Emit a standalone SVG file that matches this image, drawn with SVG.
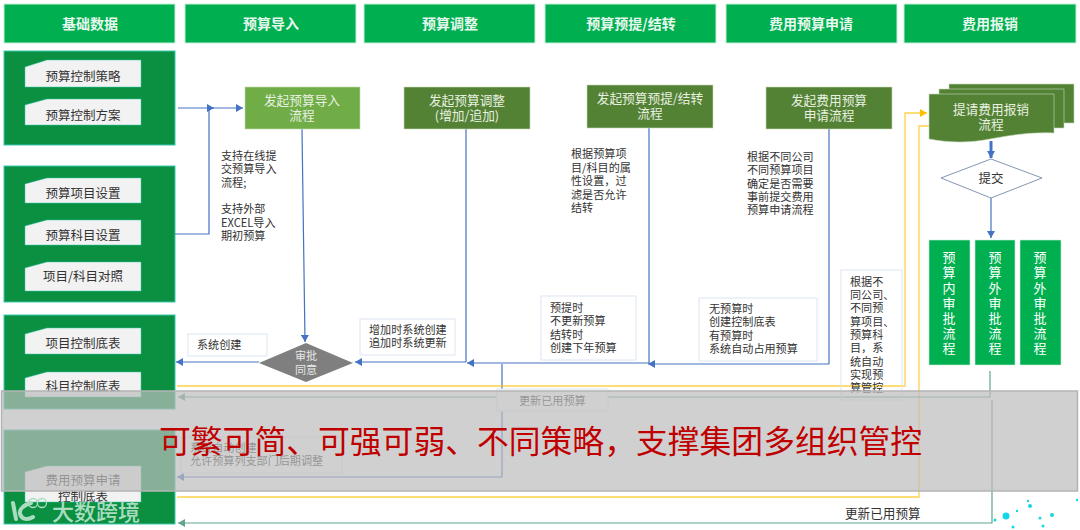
<svg xmlns="http://www.w3.org/2000/svg" width="1080" height="530" viewBox="0 0 1080 530">
<style>
text{font-family:"Noto Sans CJK SC","Liberation Sans",sans-serif;fill:#333;font-size:11.1px}
.hdr{fill:#00b050;stroke:#c6efd8;stroke-width:1}
.hdrt{fill:#fff;font-size:14px;font-weight:700;text-anchor:middle;fill-opacity:.92}
.panel{fill:#0a9040;stroke:#3cc8b4;stroke-width:1}
.item{fill:#f2f2f2;stroke:#3cc8b4;stroke-width:.5}
.itemt{font-size:12.5px;text-anchor:middle;fill:#333}
.proc{fill:#548235;stroke:#c5d9b8;stroke-width:.6}
.proct{fill:#e8f0e0;font-size:12.7px;text-anchor:middle}
.note{fill:#fff;stroke:#dce6f2;stroke-width:1}
.appr{fill:#00b050;stroke:#c6efd8;stroke-width:.6}
.apprt{fill:#fff;font-size:13px;text-anchor:middle}
.b{fill:none;stroke:#4472c4;stroke-width:1.2;marker-end:url(#ab)}
.bn{fill:none;stroke:#4472c4;stroke-width:1.2}
.y{fill:none;stroke:#ffc000;stroke-width:1.3;stroke-opacity:.72;marker-end:url(#ay)}
.g{fill:none;stroke:#5fa58a;stroke-width:1.2;marker-end:url(#ag)}
.dot{fill:#17d5e8}
.wm{fill:none;stroke:#a9dcc0;stroke-width:4;stroke-linecap:round}
</style>
<defs>
<marker id="ab" markerUnits="userSpaceOnUse" markerWidth="8" markerHeight="8" refX="7" refY="4" orient="auto"><path d="M0 0L7 4L0 8z" fill="#4472c4"/></marker>
<marker id="ay" markerUnits="userSpaceOnUse" markerWidth="8" markerHeight="8" refX="7" refY="4" orient="auto"><path d="M0 0L7 4L0 8z" fill="#ffc000"/></marker>
<marker id="ag" markerUnits="userSpaceOnUse" markerWidth="8" markerHeight="8" refX="7" refY="4" orient="auto"><path d="M0 0L7 4L0 8z" fill="#5fa58a"/></marker>
</defs>
<rect width="1080" height="530" fill="#fff"/>

<g id="hdr-1"><rect class="hdr" x="4" y="4" width="171" height="39"/><text class="hdrt" x="90" y="29">基础数据</text></g>
<g id="hdr-2"><rect class="hdr" x="185" y="4" width="171" height="39"/><text class="hdrt" x="271" y="29">预算导入</text></g>
<g id="hdr-3"><rect class="hdr" x="364" y="4" width="171" height="39"/><text class="hdrt" x="450" y="29">预算调整</text></g>
<g id="hdr-4"><rect class="hdr" x="545" y="4" width="171" height="39"/><text class="hdrt" x="631" y="29">预算预提/结转</text></g>
<g id="hdr-5"><rect class="hdr" x="726" y="4" width="171" height="39"/><text class="hdrt" x="811" y="29">费用预算申请</text></g>
<g id="hdr-6"><rect class="hdr" x="904" y="4" width="172" height="39"/><text class="hdrt" x="990" y="29">费用报销</text></g>

<g id="panel-1"><rect class="panel" x="4" y="51" width="171" height="94"/>
<path class="item" d="M25 67L47 60H141V87H25z"/><text class="itemt" x="83" y="81">预算控制策略</text>
<path class="item" d="M25 105L47 99H141V125H25z"/><text class="itemt" x="83" y="120">预算控制方案</text></g>
<g id="panel-2"><rect class="panel" x="4" y="166" width="171" height="136"/>
<path class="item" d="M25 184L47 178H141V203H25z"/><text class="itemt" x="83" y="198">预算项目设置</text>
<path class="item" d="M25 226L47 220H141V245H25z"/><text class="itemt" x="83" y="240">预算科目设置</text>
<path class="item" d="M25 268L47 262H141V291H25z"/><text class="itemt" x="83" y="281">项目/科目对照</text></g>
<g id="panel-3"><rect class="panel" x="4" y="315" width="171" height="94"/>
<path class="item" d="M25 334L47 328H141V354H25z"/><text class="itemt" x="83" y="348">项目控制底表</text>
<path class="item" d="M25 378L47 372H141V397H25z"/><text class="itemt" x="83" y="391">科目控制底表</text></g>
<g id="panel-4"><rect class="panel" x="4" y="430" width="171" height="94"/>
<path class="item" d="M25 472L47 466H141V502H25z"/><text class="itemt" x="83" y="485">费用预算申请</text><text class="itemt" x="83" y="501">控制底表</text></g>

<g id="connectors">
<path class="b" d="M178 108H243"/>
<path class="b" d="M175 234H209V108H214"/>
<path class="b" d="M302 129L305 342"/>
<path class="b" d="M259 362H176"/>
<path class="bn" d="M466 129V362"/>
<path class="b" d="M466 362H355"/>
<path class="bn" d="M649 128V363"/>
<path class="b" d="M649 363H467"/>
<path class="bn" d="M829 129V364"/>
<path class="b" d="M829 364H648"/>
<path class="b" d="M502 364V477H177"/>
<path class="y" d="M177 386H905V113H927"/>
<path class="y" d="M177 497H919V126H940"/>
<path class="g" d="M990 371V397H178"/>
<path class="g" d="M992 400V523H178"/>
<path d="M991 141V158" fill="none" stroke="#4472c4" stroke-width="3" marker-end="url(#ab)"/>
<path class="b" d="M991 198V238"/>
</g>

<g id="node-import"><rect x="245" y="87" width="115" height="42" fill="#70ad47" stroke="#c5d9b8" stroke-width=".6"/><text class="proct" x="302" y="105">发起预算导入</text><text class="proct" x="302" y="120">流程</text></g>
<g id="node-adjust"><rect class="proc" x="404" y="87" width="126" height="42"/><text class="proct" x="467" y="105">发起预算调整</text><text class="proct" x="467" y="120">(增加/追加)</text></g>
<g id="node-accrue"><rect class="proc" x="587" y="85" width="126" height="43"/><text class="proct" x="650" y="103">发起预算预提/结转</text><text class="proct" x="650" y="118">流程</text></g>
<g id="node-apply"><rect class="proc" x="766" y="87" width="126" height="42"/><text class="proct" x="829" y="105">发起费用预算</text><text class="proct" x="829" y="120">申请流程</text></g>
<g id="node-reimburse">
<rect class="proc" x="949" y="84" width="125" height="39"/>
<rect class="proc" x="939" y="89" width="125" height="39"/>
<path class="proc" d="M929 94H1054V133C1030 132 1012 135 990 139C970 143 950 143 929 139z"/>
<text class="proct" x="991" y="114">提请费用报销</text><text class="proct" x="991" y="129">流程</text></g>
<g id="node-submit"><path d="M941 178L991 159L1042 178L991 198z" fill="#fff" stroke="#8497b0"/><text x="991" y="183" text-anchor="middle" style="font-size:12.5px">提交</text></g>
<g id="node-approve"><path d="M259 363L306 343L353 363L306 382z" fill="#7f7f7f"/><text x="306" y="360" text-anchor="middle" style="fill:#e8e8e8">审批</text><text x="306" y="373.5" text-anchor="middle" style="fill:#e8e8e8">同意</text></g>

<g id="appr-1"><rect class="appr" x="929" y="240" width="41" height="125"/><text class="apprt"><tspan x="949" y="262">预</tspan><tspan x="949" y="277">算</tspan><tspan x="949" y="293">内</tspan><tspan x="949" y="308">审</tspan><tspan x="949" y="323">批</tspan><tspan x="949" y="338">流</tspan><tspan x="949" y="353">程</tspan></text></g>
<g id="appr-2"><rect class="appr" x="975" y="240" width="40" height="125"/><text class="apprt"><tspan x="995" y="262">预</tspan><tspan x="995" y="277">算</tspan><tspan x="995" y="293">外</tspan><tspan x="995" y="308">审</tspan><tspan x="995" y="323">批</tspan><tspan x="995" y="338">流</tspan><tspan x="995" y="353">程</tspan></text></g>
<g id="appr-3"><rect class="appr" x="1020" y="240" width="41" height="125"/><text class="apprt"><tspan x="1040" y="262">预</tspan><tspan x="1040" y="277">算</tspan><tspan x="1040" y="293">外</tspan><tspan x="1040" y="308">审</tspan><tspan x="1040" y="323">批</tspan><tspan x="1040" y="338">流</tspan><tspan x="1040" y="353">程</tspan></text></g>

<g id="note-import"><text><tspan x="221" y="160">支持在线提</tspan><tspan x="221" y="173.3">交预算导入</tspan><tspan x="221" y="186.6">流程;</tspan><tspan x="221" y="213">支持外部</tspan><tspan x="221" y="226.5">EXCEL导入</tspan><tspan x="221" y="240">期初预算</tspan></text></g>
<g id="note-accrue"><text><tspan x="571" y="158">根据预算项</tspan><tspan x="571" y="171.5">目/科目的属</tspan><tspan x="571" y="185">性设置，过</tspan><tspan x="571" y="198.5">滤是否允许</tspan><tspan x="571" y="212">结转</tspan></text></g>
<g id="note-apply"><text><tspan x="747" y="161">根据不同公司</tspan><tspan x="747" y="174.3">不同预算项目</tspan><tspan x="747" y="187.6">确定是否需要</tspan><tspan x="747" y="201">事前提交费用</tspan><tspan x="747" y="214.3">预算申请流程</tspan></text></g>

<g id="box-create"><rect class="note" x="188" y="334" width="79" height="22"/><text x="197" y="349">系统创建</text></g>
<g id="box-adjust"><rect class="note" x="360" y="319" width="95" height="36"/><text><tspan x="369" y="334">增加时系统创建</tspan><tspan x="369" y="347">追加时系统更新</tspan></text></g>
<g id="box-accrue"><rect class="note" x="541" y="296" width="95" height="64"/><text><tspan x="550" y="312">预提时</tspan><tspan x="550" y="325">不更新预算</tspan><tspan x="550" y="338.5">结转时</tspan><tspan x="550" y="352">创建下年预算</tspan></text></g>
<g id="box-apply"><rect class="note" x="699" y="298" width="118" height="63"/><text><tspan x="709" y="313">无预算时</tspan><tspan x="709" y="326">创建控制底表</tspan><tspan x="709" y="340">有预算时</tspan><tspan x="709" y="353">系统自动占用预算</tspan></text></g>
<g id="box-update"><rect x="497" y="389" width="111" height="22" fill="#fff" stroke="#dce6f2"/><text x="519" y="405">更新已用预算</text></g>
<g id="box-system"><rect class="note" x="181" y="437" width="161" height="36"/><text><tspan x="190" y="452">系统自动创建</tspan><tspan x="190" y="465">允许预算列支部门后期调整</tspan></text></g>
<g id="box-limit"><rect x="841" y="270" width="61" height="130" fill="none" stroke="#dce6f2"/><text><tspan x="850" y="285.5">根据不</tspan><tspan x="850" y="298.8">同公司、</tspan><tspan x="850" y="312.2">不同预</tspan><tspan x="850" y="325.5">算项目、</tspan><tspan x="850" y="338.8">预算科</tspan><tspan x="850" y="352.2">目，系</tspan><tspan x="850" y="365.5">统自动</tspan><tspan x="850" y="378.8">实现预</tspan><tspan x="850" y="392">算管控</tspan></text></g>

<rect id="overlay" x="1.5" y="391" width="1076" height="100" fill="#bdbdbd" fill-opacity=".71" stroke="#b4b4b4" stroke-width="1.5"/>

<text x="159" y="453" style="fill:#c00000;font-size:31.8px">可繁可简、可强可弱、不同策略，支撑集团多组织管控</text>
<text x="845" y="518" style="font-size:12.6px">更新已用预算</text>

<g id="watermark-left">
<path class="wm" d="M13 503L16 519M31 503C23 505 19 510 20 514C22 520 28 520 33 517"/>
<circle cx="33" cy="503" r="4.5" fill="none" stroke="#a9dcc0" stroke-width="1.3"/><circle cx="42" cy="503" r="4.5" fill="none" stroke="#a9dcc0" stroke-width="1.3"/>
<text x="52" y="520" style="fill:#a9dcc0;font-size:22px;font-weight:500">大数跨境</text>
</g>
<g id="watermark-right">
<circle class="dot" cx="1006" cy="516" r="3.5"/><circle class="dot" cx="1030" cy="506" r="2"/><circle class="dot" cx="1052" cy="515" r="2"/><circle class="dot" cx="1028" cy="501" r="1.2"/><circle class="dot" cx="1017" cy="511" r="1.2"/><circle class="dot" cx="995" cy="520" r="1.5"/><circle class="dot" cx="1040" cy="518" r="1.5"/><circle class="dot" cx="1077" cy="500" r="1.2"/><circle class="dot" cx="1013" cy="527" r="1.5"/><circle class="dot" cx="1043" cy="526" r="1.5"/>
</g>
</svg>
